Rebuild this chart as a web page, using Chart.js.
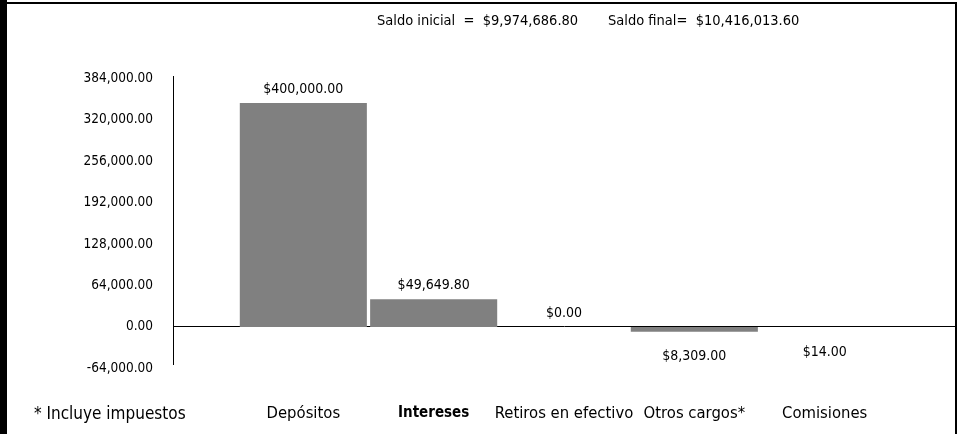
<!DOCTYPE html>
<html>
<head>
<meta charset="utf-8">
<script src="https://cdn.jsdelivr.net/npm/chart.js@4.4.1/dist/chart.umd.min.js"></script>
<style>
  body { margin: 0; background: #fff; }
  #wrap { position: relative; width: 958px; height: 434px; overflow: hidden; }
  #frame { position: absolute; left: 0; top: 2px; width: 957px; height: 440px;
           border-top: 2px solid #000; border-right: 2px solid #000; box-sizing: border-box; }
  #leftbar { position: absolute; left: 0; top: 0; width: 7px; height: 434px; background: #000; }
  .txt { position: absolute; white-space: pre; color: #000; line-height: 20px;
         font-family: 'DejaVu Sans Condensed', 'Liberation Sans Narrow', sans-serif; }
  canvas { position: absolute; left: 0; top: 0; }
</style>
</head>
<body>
<div id="wrap">
  <canvas id="movChart" width="958" height="434"></canvas>
  <div id="frame"></div>
  <div id="leftbar"></div>
  <div id="saldoIni" class="txt" style="left:377px; top:10px; font-size:14.5px;"></div>
  <div id="saldoFin" class="txt" style="left:608px; top:10px; font-size:14.5px;"></div>
  <div id="nota" class="txt" style="left:34px; top:403px; font-size:17px;">* Incluye impuestos</div>
</div>
<script>
const categorias = ["Depósitos", "Intereses", "Retiros en efectivo", "Otros cargos*", "Comisiones"];
const valores = [400000.00, 49649.80, 0.00, -8309.00, -14.00];
const ticksY = [384000, 320000, 256000, 192000, 128000, 64000, 0, -64000];
const saldoInicial = 9974686.80;
const saldoFinal = 10416013.60;

const fuente = "'DejaVu Sans Condensed', 'Liberation Sans Narrow', sans-serif";

function num(v) {
    return v.toLocaleString("en-US", { minimumFractionDigits: 2, maximumFractionDigits: 2 });
}
function money(v) {
    return "$" + num(Math.abs(v));
}

document.getElementById("saldoIni").textContent = "Saldo inicial  =  " + money(saldoInicial);
document.getElementById("saldoFin").textContent = "Saldo final=  " + money(saldoFinal);

// value labels above / below each bar
const barLabels = {
    id: "barLabels",
    afterDatasetsDraw(chart) {
        const ctx = chart.ctx;
        const meta = chart.getDatasetMeta(0);
        ctx.save();
        ctx.font = "14px " + fuente;
        ctx.fillStyle = "#000";
        ctx.textAlign = "center";
        ctx.textBaseline = "middle";
        meta.data.forEach((bar, i) => {
            const v = valores[i];
            const y = v >= 0 ? bar.y - 14 : bar.y + 25;
            ctx.fillText(money(v), bar.x, y);
        });
        ctx.restore();
    }
};

new Chart(document.getElementById("movChart").getContext("2d"), {
    type: "bar",
    data: {
        datasets: [{
            data: valores.map((v, i) => ({ x: i, y: v })),
            backgroundColor: "#808080",
            borderWidth: 0,
            categoryPercentage: 1,
            barPercentage: 0.975,
            xAxisID: "x",
            yAxisID: "y"
        }]
    },
    options: {
        responsive: false,
        animation: false,
        layout: { padding: { top: 76, right: 3, left: 0, bottom: 0 } },
        plugins: {
            legend: { display: false },
            tooltip: { enabled: false }
        },
        scales: {
            x: {
                type: "linear",
                position: "bottom",
                offset: false,
                min: -1,
                max: 5,
                grid: { display: false, offset: false },
                border: { display: false },
                afterBuildTicks: (scale) => { scale.ticks = categorias.map((c, i) => ({ value: i })); },
                afterFit: (scale) => { scale.height = 70; },
                ticks: {
                    autoSkip: false,
                    maxRotation: 0,
                    padding: 32,
                    color: "#000",
                    font: (ctx) => (ctx.index === 1
                        ? { family: fuente, size: 15, weight: "bold" }
                        : { family: fuente, size: 16.5, weight: "normal" }),
                    callback: (value) => categorias[value]
                }
            },
            y: {
                display: false,
                min: -66071,
                max: 448214
            },
            yT: {
                position: "left",
                min: -57200,
                max: 388000,
                grid: {
                    drawTicks: false,
                    color: (ctx) => (ctx.tick && ctx.tick.value === 0 ? "#000" : "rgba(0,0,0,0)"),
                    lineWidth: 1
                },
                border: { display: true, color: "#000", width: 1 },
                afterBuildTicks: (scale) => { scale.ticks = ticksY.map(v => ({ value: v })); },
                afterFit: (scale) => { scale.width = 173; },
                ticks: {
                    padding: 20,
                    color: "#000",
                    font: { family: fuente, size: 13.5 },
                    callback: (value) => num(value)
                }
            }
        }
    },
    plugins: [barLabels]
});
</script>
</body>
</html>
